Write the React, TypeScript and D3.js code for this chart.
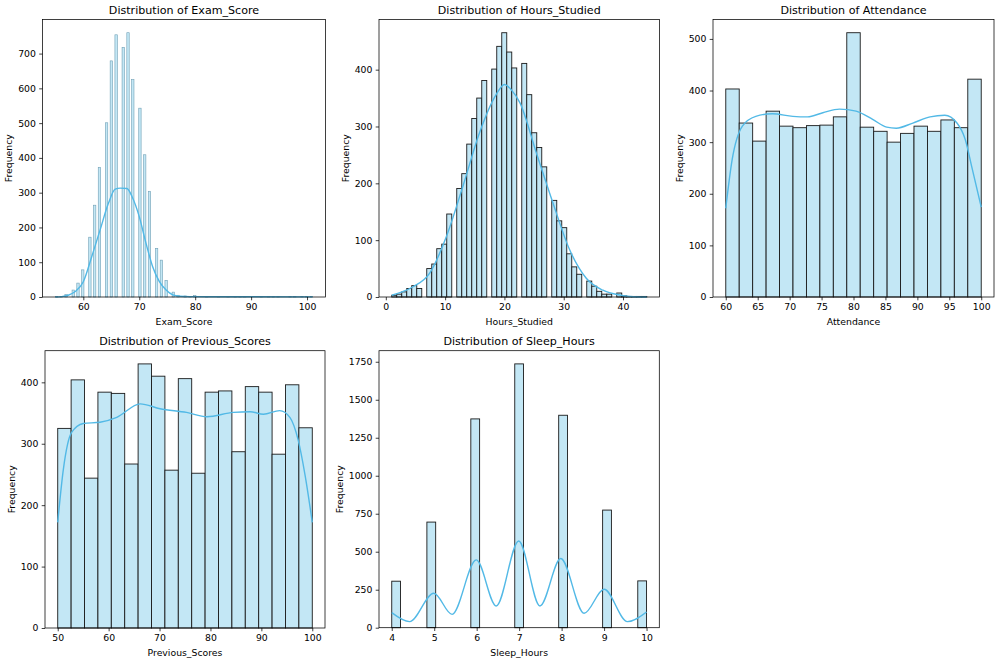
import { useEffect, useRef } from "react"
import * as d3 from "d3"

// ---- data ----

// Exam_Score: integer score -> count (108 auto bins over 55..101)
const examValues = [55, 56, 57, 58, 59, 60, 61, 62, 63, 64, 65, 66, 67, 68, 69, 70, 71, 72, 73, 74, 75, 76, 77, 78, 79, 80, 82, 84, 86, 87, 88, 89, 92, 93, 94, 95, 97, 98, 99, 100, 101]
const examCounts = [1, 2, 7, 20, 40, 78, 172, 264, 373, 501, 679, 754, 718, 760, 625, 543, 409, 304, 140, 106, 48, 14, 5, 3, 2, 4, 2, 1, 2, 1, 1, 1, 1, 1, 2, 1, 1, 1, 1, 2, 1]
const examKdeX = [55, 56.1, 57.3, 58.5, 60, 61.5, 63, 64.5, 65.7, 66.6, 67.8, 68.7, 70, 71.2, 72.4, 73.6, 74.8, 76, 77.2, 79, 85, 101]
const examKdeY = [0, 1, 5, 15, 44, 116, 193, 270, 310, 313, 312, 289, 231, 155, 87, 44, 20, 6, 2, 1, 0.6, 0.4]

// Hours_Studied: integer hours -> count (51 auto bins over 1..44)
const hoursValues = d3.range(1, 45)
const hoursCounts = [3, 5, 9, 15, 20, 15, 50, 58, 85, 93, 146, 191, 217, 269, 314, 350, 381, 401, 441, 465, 431, 403, 411, 356, 289, 263, 229, 170, 134, 122, 76, 53, 40, 28, 19, 10, 5, 5, 7, 2, 1, 1, 1, 1]
const hoursKdeX = [1, 2.5, 4.6, 7.4, 10.2, 13, 15.8, 18.6, 20, 21.2, 22.6, 25.4, 28.2, 31, 33.8, 36.6, 39.4, 41.2, 44]
const hoursKdeY = [3, 8, 18, 42, 106, 195, 289, 356, 374, 364, 342, 253, 165, 83, 33, 12, 3.5, 1, 0]

// Attendance: 19 bins over 60..100
const attendanceCounts = [403, 337, 302, 360, 331, 328, 332, 333, 349, 512, 329, 321, 300, 317, 331, 321, 343, 328, 422]
const attendanceKdeX = [60, 61, 62.6, 64.7, 67.3, 70.5, 72.8, 75.2, 77.8, 80.4, 83, 85.2, 86.7, 89.3, 92, 94.3, 96.2, 97.5, 98.5, 100]
const attendanceKdeY = [172, 266, 331, 350, 355, 350, 349, 357, 364, 360, 344, 329, 327, 337, 349, 352, 337, 305, 253, 174]

// Previous_Scores: 19 bins over 50..100
const previousCounts = [325, 404, 244, 384, 382, 267, 430, 410, 257, 406, 252, 384, 386, 287, 393, 384, 283, 396, 326]
const previousKdeX = [50, 51.1, 52.7, 55, 58.3, 61.6, 66.2, 70.1, 75.3, 79.3, 84.5, 87.8, 90.4, 93.6, 95.6, 97.2, 98.6, 100]
const previousKdeY = [172, 258, 318, 333, 335, 343, 365, 357, 351, 344, 351, 352, 348, 354, 343, 307, 248, 172]

// Sleep_Hours: integer hours -> count (29 auto bins over 4..10)
const sleepValues = [4, 5, 6, 7, 8, 9, 10]
const sleepCounts = [306, 695, 1374, 1736, 1398, 774, 308]
const sleepKdeX = [4, 4.42, 4.99, 5.42, 5.99, 6.46, 6.99, 7.49, 7.98, 8.53, 9, 9.55, 10]
const sleepKdeY = [99, 40, 227, 88, 446, 143, 571, 143, 455, 95, 253, 40, 103]

// tick labels
const examXTicks = [60, 70, 80, 90, 100]
const examYTicks = [0, 100, 200, 300, 400, 500, 600, 700]
const hoursXTicks = [0, 10, 20, 30, 40]
const hoursYTicks = [0, 100, 200, 300, 400]
const attendanceXTicks = [60, 65, 70, 75, 80, 85, 90, 95, 100]
const attendanceYTicks = [0, 100, 200, 300, 400, 500]
const previousXTicks = [50, 60, 70, 80, 90, 100]
const previousYTicks = [0, 100, 200, 300, 400]
const sleepXTicks = [4, 5, 6, 7, 8, 9, 10]
const sleepYTicks = [0, 250, 500, 750, 1000, 1250, 1500, 1750]

interface Bar {
  x0: number
  x1: number
  n: number
}

// place integer-valued counts into numpy-style equal-width bins
function binValues(values: number[], counts: number[], lo: number, hi: number, nBins: number): Bar[] {
  const w = (hi - lo) / nBins
  return values.map((v, i) => {
    const b = Math.min(nBins - 1, Math.floor((v - lo) / w + 1e-9))
    return { x0: lo + b * w, x1: lo + (b + 1) * w, n: counts[i] }
  })
}

function binCounts(counts: number[], lo: number, hi: number): Bar[] {
  const w = (hi - lo) / counts.length
  return counts.map((n, i) => ({ x0: lo + i * w, x1: lo + (i + 1) * w, n }))
}

interface PanelSpec {
  title: string
  label: string
  box: [number, number, number, number] // left, top, right, bottom
  lo: number
  hi: number
  yMax: number
  bars: Bar[]
  kdeX: number[]
  kdeY: number[]
  xTicks: number[]
  yTicks: number[]
  thin?: boolean
}

const panels: PanelSpec[] = [
  {
    title: "Distribution of Exam_Score", label: "Exam_Score", box: [42.5, 19.5, 325.5, 297],
    lo: 55, hi: 101, yMax: Math.max(...examCounts) * 1.05,
    bars: binValues(examValues, examCounts, 55, 101, 108), kdeX: examKdeX, kdeY: examKdeY,
    xTicks: examXTicks, yTicks: examYTicks, thin: true,
  },
  {
    title: "Distribution of Hours_Studied", label: "Hours_Studied", box: [379, 19.5, 659.5, 297],
    lo: 1, hi: 44, yMax: Math.max(...hoursCounts) * 1.05,
    bars: binValues(hoursValues, hoursCounts, 1, 44, 51), kdeX: hoursKdeX, kdeY: hoursKdeY,
    xTicks: hoursXTicks, yTicks: hoursYTicks,
  },
  {
    title: "Distribution of Attendance", label: "Attendance", box: [713, 19.5, 994, 297],
    lo: 60, hi: 100, yMax: Math.max(...attendanceCounts) * 1.05,
    bars: binCounts(attendanceCounts, 60, 100), kdeX: attendanceKdeX, kdeY: attendanceKdeY,
    xTicks: attendanceXTicks, yTicks: attendanceYTicks,
  },
  {
    title: "Distribution of Previous_Scores", label: "Previous_Scores", box: [45, 350.7, 325, 628],
    lo: 50, hi: 100, yMax: Math.max(...previousCounts) * 1.05,
    bars: binCounts(previousCounts, 50, 100), kdeX: previousKdeX, kdeY: previousKdeY,
    xTicks: previousXTicks, yTicks: previousYTicks,
  },
  {
    title: "Distribution of Sleep_Hours", label: "Sleep_Hours", box: [379, 350.7, 659.3, 627.7],
    lo: 4, hi: 10, yMax: Math.max(...sleepCounts) * 1.05,
    bars: binValues(sleepValues, sleepCounts, 4, 10, 29), kdeX: sleepKdeX, kdeY: sleepKdeY,
    xTicks: sleepXTicks, yTicks: sleepYTicks,
  },
]

const FONT = "DejaVu Sans, sans-serif"

function drawPanel(root: d3.Selection<SVGGElement, unknown, null, undefined>, p: PanelSpec) {
  const [left, top, right, bottom] = p.box
  const pad = (p.hi - p.lo) * 0.05
  const x = d3.scaleLinear().domain([p.lo - pad, p.hi + pad]).range([left, right])
  const y = d3.scaleLinear().domain([0, p.yMax]).range([bottom, top])

  const g = root.append("g")

  // bars
  g.append("g")
    .selectAll("rect")
    .data(p.bars)
    .enter()
    .append("rect")
    .attr("x", (d) => x(d.x0))
    .attr("width", (d) => x(d.x1) - x(d.x0))
    .attr("y", (d) => y(d.n))
    .attr("height", (d) => y(0) - y(d.n))
    .attr("fill", "#c3e7f5")
    .attr("stroke", p.thin ? "#6f9fb5" : "#1a1a1a")
    .attr("stroke-width", p.thin ? 0.6 : 0.9)

  // kde
  const line = d3
    .line<number>()
    .x((_, i) => x(p.kdeX[i]))
    .y((d) => y(d))
    .curve(d3.curveMonotoneX)
  g.append("path")
    .datum(p.kdeY)
    .attr("fill", "none")
    .attr("stroke", "#52b9e6")
    .attr("stroke-width", 1.4)
    .attr("d", line)

  // axes
  const xAxis = g
    .append("g")
    .attr("transform", `translate(0,${bottom})`)
    .call(d3.axisBottom(x).tickValues(p.xTicks).tickSize(3.3).tickPadding(3.3).tickFormat(d3.format("d")))
  const yAxis = g
    .append("g")
    .attr("transform", `translate(${left},0)`)
    .call(d3.axisLeft(y).tickValues(p.yTicks).tickSize(3.3).tickPadding(3.3).tickFormat(d3.format("d")))
  ;[xAxis, yAxis].forEach((a) => {
    a.select(".domain").remove()
    a.selectAll("line").attr("stroke", "#000").attr("stroke-width", 0.75)
    a.selectAll("text").attr("font-family", FONT).attr("font-size", 9.3).attr("fill", "#000")
  })

  // frame
  g.append("rect")
    .attr("x", left)
    .attr("y", top)
    .attr("width", right - left)
    .attr("height", bottom - top)
    .attr("fill", "none")
    .attr("stroke", "#000")
    .attr("stroke-width", 0.75)

  // title and labels
  g.append("text")
    .attr("x", (left + right) / 2)
    .attr("y", top - 5.6)
    .attr("text-anchor", "middle")
    .attr("font-family", FONT)
    .attr("font-size", 11.1)
    .text(p.title)

  g.append("text")
    .attr("x", (left + right) / 2)
    .attr("y", bottom + 28)
    .attr("text-anchor", "middle")
    .attr("font-family", FONT)
    .attr("font-size", 9.3)
    .text(p.label)

  const tickW = d3.max(p.yTicks, (t) => String(t).length) as number
  const yl = left - 6.6 - tickW * 5.9 - 6
  g.append("text")
    .attr("transform", `translate(${yl},${(top + bottom) / 2}) rotate(-90)`)
    .attr("text-anchor", "middle")
    .attr("font-family", FONT)
    .attr("font-size", 9.3)
    .text("Frequency")
}

export default function App() {
  const svgRef = useRef<SVGSVGElement>(null)

  useEffect(() => {
    if (!svgRef.current) return
    const svg = d3.select(svgRef.current)
    svg.selectAll("*").remove()
    svg.append("rect").attr("width", 1000).attr("height", 664).attr("fill", "#fff")
    const root = svg.append("g")
    panels.forEach((p) => drawPanel(root, p))
  }, [])

  return (
    <svg
      ref={svgRef}
      width={1000}
      height={664}
      style={{ position: "absolute", left: 0, top: 0 }}
    ></svg>
  )
}
